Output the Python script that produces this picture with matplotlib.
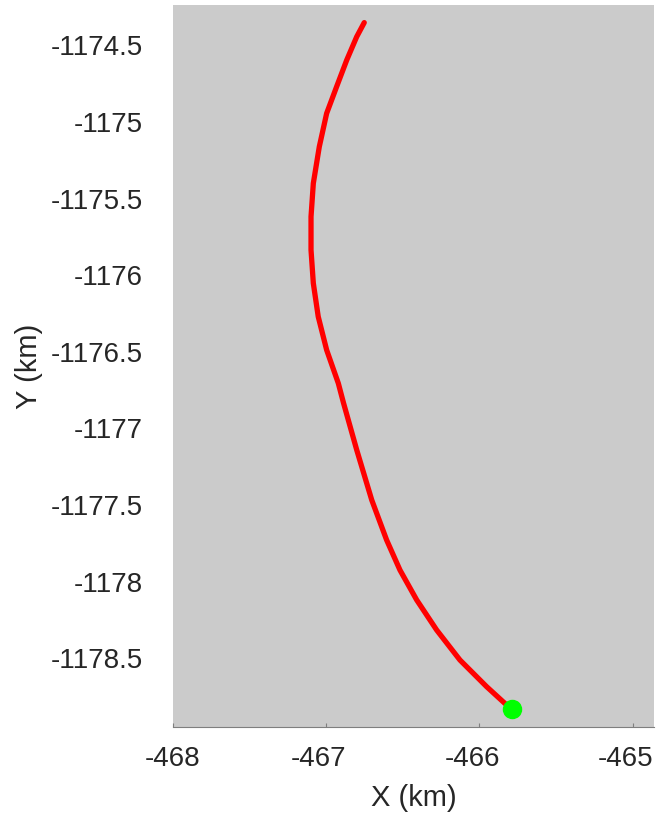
"""
Rover path over terrain patch (local X/Y in km).
"""

import numpy as np
import matplotlib.pyplot as plt
from matplotlib.transforms import ScaledTranslation

# path samples (km)
path_x = [-466.750, -466.799, -466.864, -466.930, -466.995, -467.043, -467.082,
          -467.097, -467.097, -467.082, -467.050, -466.995, -466.919, -466.885,
          -466.799, -466.701, -466.604, -466.517, -466.408, -466.278, -466.126,
          -465.952, -465.833, -465.784]
path_y = [-1174.351, -1174.443, -1174.595, -1174.769, -1174.943, -1175.161,
          -1175.400, -1175.618, -1175.835, -1176.052, -1176.270, -1176.488,
          -1176.705, -1176.834, -1177.140, -1177.467, -1177.728, -1177.924,
          -1178.119, -1178.315, -1178.511, -1178.685, -1178.794, -1178.833]

# final position
end_x = [-465.784]
end_y = [-1178.833]

x_ticks = [-468, -467, -466, -465]
y_ticks = [-1178.5, -1178, -1177.5, -1177, -1176.5, -1176, -1175.5, -1175, -1174.5]
x_lim = (-468.0, -464.86)
y_lim = (-1178.948, -1174.236)

text_color = '#262626'
plt.rcParams['font.family'] = ['Liberation Sans', 'DejaVu Sans']

fig = plt.figure(figsize=(6.57, 8.16), dpi=100)
ax = fig.add_axes([0.2626, 0.1091, 0.733, 0.8848])

# terrain backdrop
ax.set_facecolor('#cbcbcb')

ax.plot(path_x, path_y, color='#ff0000', lw=3.8, solid_capstyle='round',
        solid_joinstyle='round')
ax.plot(end_x, end_y, marker='o', ms=13, color='#00ff00', mec='#00ff00', ls='none')

ax.set_xlim(*x_lim)
ax.set_ylim(*y_lim)

ax.set_xticks(x_ticks)
ax.set_xticklabels([str(v) for v in x_ticks])
ax.set_yticks(y_ticks)
ax.set_yticklabels([f'{v:g}' for v in y_ticks])

for side in ['top', 'right', 'left']:
    ax.spines[side].set_visible(False)
ax.spines['bottom'].set_color('#7f7f7f')
ax.spines['bottom'].set_linewidth(0.8)

ax.tick_params(axis='x', direction='in', length=3, color='#7f7f7f',
               labelsize=20, labelcolor=text_color, pad=14)
ax.tick_params(axis='y', length=0, labelsize=20, labelcolor=text_color, pad=21.5)

# labels sit a little left of their ticks, as in the original
shift = ScaledTranslation(-0.07, 0, fig.dpi_scale_trans)
for lbl in ax.get_xticklabels()[1:]:
    lbl.set_transform(lbl.get_transform() + shift)

ax.set_xlabel('X (km)', fontsize=21, color=text_color, labelpad=8)
ax.set_ylabel('Y (km)', fontsize=21, color=text_color, labelpad=5)

plt.savefig('out.png', dpi=100)
plt.close()
